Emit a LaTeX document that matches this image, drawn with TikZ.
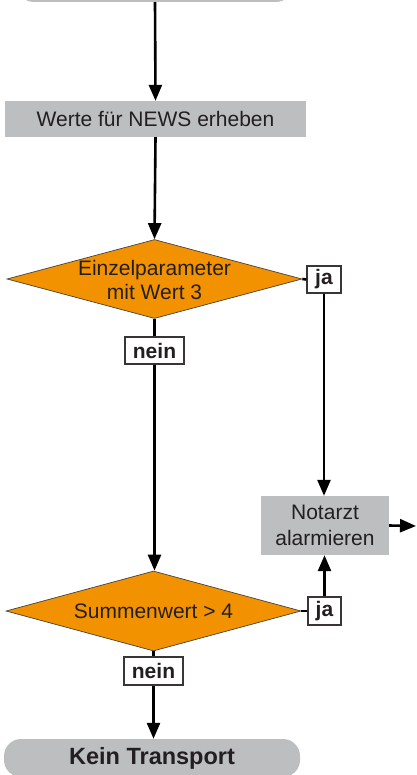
\documentclass[tikz,border=0pt]{standalone}
\usepackage{fontspec}
\setmainfont{Liberation Sans}
\usetikzlibrary{shapes.geometric,arrows.meta}
\definecolor{boxgray}{HTML}{BCBEC0}
\definecolor{decorange}{HTML}{F39200}
\definecolor{inkdark}{HTML}{231F20}
\tikzset{
  txt/.style={font=\fontsize{21}{24}\selectfont, text=inkdark, align=center},
  stepbox/.style={rectangle, fill=boxgray, inner sep=0pt},
  endbox/.style={rectangle, rounded corners=17pt, fill=boxgray, inner sep=0pt},
  decision/.style={diamond, fill=decorange, draw=inkdark!85, line width=0.7pt, inner sep=0pt},
  answer/.style={rectangle, fill=white, draw=inkdark!90, line width=1.3pt, inner sep=0pt,
    font=\fontsize{21}{24}\selectfont\bfseries, text=inkdark},
  flow/.style={line width=2.6pt, draw=black},
  flowarrow/.style={flow, -{Triangle[length=16pt,width=13pt]}},
}
\begin{document}
\begin{tikzpicture}[x=1pt, y=-1pt]
  \useasboundingbox (0,0) rectangle (416,775);
  \clip (0,0) rectangle (416,775);

  % process boxes and terminals
  \node[endbox, minimum width=276pt, minimum height=36pt] (start) at (155,-16) {};
  \node[stepbox, txt, minimum width=301pt, minimum height=36pt] (werte) at (155.5,119) {Werte für NEWS erheben};
  \node[stepbox, txt, font=\fontsize{21}{26}\selectfont, minimum width=128pt, minimum height=59pt] (notarzt) at (325,525.5) {Notarzt\\alarmieren};
  \node[endbox, txt, font=\fontsize{23.5}{26}\selectfont\bfseries, minimum width=296pt, minimum height=38pt] (kein) at (152,758) {Kein Transport};

  % decisions
  \node[decision, minimum width=295pt, minimum height=79pt] (d1) at (154.5,279) {};
  \node[txt] (d1text) at (154.5,280) {Einzelparameter\\mit Wert 3};
  \node[decision, minimum width=295pt, minimum height=80pt] (d2) at (153.5,611) {};
  \node[txt] (d2text) at (153.5,611) {Summenwert > 4};

  % answer labels
  \node[answer, minimum width=34pt, minimum height=27pt] (ja1) at (324,279.5) {ja};
  \node[answer, minimum width=59pt, minimum height=27pt] (nein1) at (154.5,350.5) {nein};
  \node[answer, minimum width=33pt, minimum height=28pt] (ja2) at (324.5,611) {ja};
  \node[answer, minimum width=59pt, minimum height=28pt] (nein2) at (153.5,671) {nein};

  \coordinate (out) at (416,526);

  % connectors
  \draw[flowarrow] (start.south) -- (werte.north);
  \draw[flowarrow] (werte.south) -- (d1.north);
  \draw[flow] (d1.east) -- (ja1.west);
  \draw[flowarrow] (ja1.south) -- (ja1.south |- notarzt.north);
  \draw[flow] (d1.south) -- (nein1.north);
  \draw[flowarrow] (nein1.south) -- (nein1.south |- d2.north);
  \draw[flow] (d2.east) -- (ja2.west);
  \draw[flowarrow] (ja2.north) -- (ja2.north |- notarzt.south);
  \draw[flow] (d2.south) -- (nein2.north);
  \draw[flowarrow] (nein2.south) -- (nein2.south |- kein.north);
  \draw[flowarrow] (notarzt.east) -- (out);
\end{tikzpicture}
\end{document}
